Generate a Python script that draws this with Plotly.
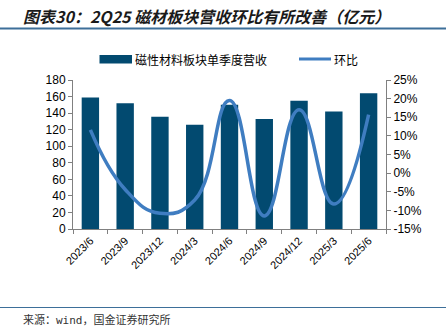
import plotly.graph_objects as go

categories = ["2023/6", "2023/9", "2023/12", "2024/3", "2024/6", "2024/9", "2024/12", "2025/3", "2025/6"]
revenue = [159, 152, 135.5, 126, 150, 133, 155, 142, 164]
qoq = [11.6, -4.4, -10.8, -7.2, 19.5, -11.5, 17.0, -8.3, 15.7]

left_ticks = list(range(0, 181, 20))
right_ticks = list(range(-15, 26, 5))

CJK = "Noto Sans CJK SC"
LAT = "Liberation Sans, Arial"
BAR_C = "#024a70"
LINE_C = "#3f7dc1"

W, H = 446, 330
ML, MR, MT, MB = 73, 60, 80, 101
pw = W - ML - MR
ph = H - MT - MB

def px(x):
    return (x - ML) / pw

def py(y):
    return (H - MB - y) / ph

fig = go.Figure()
fig.add_trace(go.Bar(
    x=categories, y=revenue, name="磁性材料板块单季度营收",
    marker=dict(color=BAR_C, line=dict(width=0)), width=0.5, yaxis="y",
))
fig.add_trace(go.Scatter(
    x=categories, y=qoq, name="环比", mode="lines",
    line=dict(color=LINE_C, width=3.5, shape="spline", smoothing=1.3), yaxis="y2",
))

fig.update_layout(
    width=W, height=H,
    margin=dict(l=ML, r=MR, t=MT, b=MB),
    paper_bgcolor="white", plot_bgcolor="white",
    font=dict(family=LAT, size=12, color="#000000"),
    showlegend=False,
    xaxis=dict(
        type="category", tickangle=-45, showline=True, linecolor="#808080", linewidth=1,
        ticks="outside", tickson="boundaries", ticklen=4, tickcolor="#808080",
        showgrid=False, tickfont=dict(family=LAT, size=11, color="#000"),
    ),
    yaxis=dict(
        range=[0, 180], tickvals=left_ticks, showline=True, linecolor="#808080", linewidth=1,
        ticks="outside", ticklen=4, tickcolor="#808080", showgrid=False, zeroline=False,
        tickfont=dict(family=LAT, size=12, color="#000"),
    ),
    yaxis2=dict(
        range=[-15, 25], tickvals=right_ticks, ticktext=[f"{v}%" for v in right_ticks],
        overlaying="y", side="right", showline=True, linecolor="#808080", linewidth=1,
        ticks="outside", ticklen=4, tickcolor="#808080", showgrid=False, zeroline=False,
        tickfont=dict(family=LAT, size=12, color="#000"),
    ),
)

# custom legend
fig.add_shape(type="rect", xref="paper", yref="paper", x0=px(99.5), x1=px(132), y0=py(55), y1=py(63.5),
              fillcolor=BAR_C, line=dict(width=0), layer="above")
fig.add_annotation(xref="paper", yref="paper", x=px(133), y=py(59), xanchor="left", yanchor="middle",
                   text=fig.data[0].name, showarrow=False, font=dict(family=CJK, size=12, color="#000"))
fig.add_shape(type="line", xref="paper", yref="paper", x0=px(299), x1=px(331), y0=py(59), y1=py(59),
              line=dict(color=LINE_C, width=3))
fig.add_annotation(xref="paper", yref="paper", x=px(332), y=py(59), xanchor="left", yanchor="middle",
                   text=fig.data[1].name, showarrow=False, font=dict(family=CJK, size=12, color="#000"))

# title, rules, source
fig.add_annotation(xref="paper", yref="paper", x=px(21), y=py(16), xanchor="left", yanchor="middle",
                   text="<b><i>图表30：2Q25 磁材板块营收环比有所改善（亿元）</i></b>",
                   showarrow=False, font=dict(family=CJK, size=16, color="#1a1a1a"))
fig.add_shape(type="line", xref="paper", yref="paper", x0=px(0), x1=px(446), y0=py(28.5), y1=py(28.5),
              line=dict(color="#3d6f99", width=2))
fig.add_shape(type="line", xref="paper", yref="paper", x0=px(0), x1=px(446), y0=py(307.5), y1=py(307.5),
              line=dict(color="#3d6f99", width=1))
fig.add_annotation(xref="paper", yref="paper", x=px(21), y=py(320), xanchor="left", yanchor="middle",
                   text="来源：wind，国金证券研究所", showarrow=False,
                   font=dict(family="DejaVu Sans Mono, Noto Sans CJK SC", size=11, color="#333"))

fig.write_html("out.html")
